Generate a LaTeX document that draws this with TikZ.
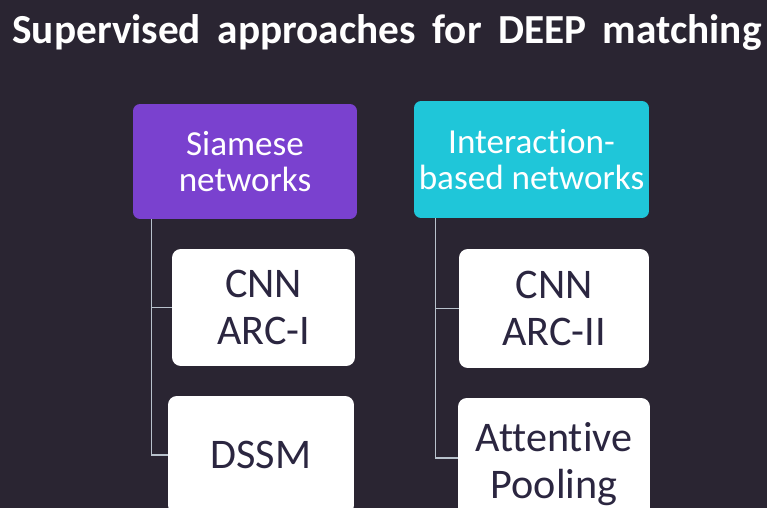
\documentclass[tikz,border=0pt]{standalone}
\usepackage{fontspec}
\setmainfont[Ligatures=NoCommon]{Carlito}
\usepackage{tikz}
\usetikzlibrary{positioning, calc}

\definecolor{slidebg}{HTML}{2A2532}
\definecolor{siamesepurple}{HTML}{7A41CF}
\definecolor{interactcyan}{HTML}{1FC6D9}
\definecolor{boxtext}{HTML}{2B2640}
\definecolor{treeline}{HTML}{B8C2CC}

\tikzset{
    headbox/.style={rounded corners=4pt, align=center, text=white,
        font=\fontsize{20}{21}\selectfont, inner sep=0pt},
    leafbox/.style={rounded corners=5pt, fill=white, align=center, text=boxtext,
        font=\fontsize{24}{27}\selectfont, inner sep=0pt},
    treelink/.style={treeline, line width=0.6pt}
}

\begin{document}
\begin{tikzpicture}[x=0.02cm, y=-0.02cm]

    % ============================================================
    % SLIDE BACKGROUND
    % ============================================================
    \useasboundingbox (0,0) rectangle (767,508);
    \fill[slidebg] (0,0) rectangle (767,508);
    \clip (0,0) rectangle (767,508);

    % ============================================================
    % TITLE
    % ============================================================
    \node[text=white, font=\fontsize{23.5}{25}\bfseries\selectfont] (title)
        at (387,33) {Supervised\hspace{0.4em}approaches\hspace{0.4em}for\hspace{0.4em}DEEP\hspace{0.4em}matching};

    % ============================================================
    % SIAMESE BRANCH
    % ============================================================
    \node[headbox, fill=siamesepurple, minimum width=4.48cm, minimum height=2.3cm]
        (siamese) at (245,161.5) {Siamese\\networks};
    \node[leafbox, minimum width=3.66cm, minimum height=2.34cm]
        (arcone) at (263.5,307.5) {CNN\\ARC-I};
    \node[leafbox, minimum width=3.72cm, minimum height=2.36cm]
        (dssm) at (261,455) {DSSM};

    \coordinate (sroot) at ($(siamese.south west)+(19,0)$);
    \draw[treelink] (sroot) |- (arcone.west);
    \draw[treelink] (sroot) |- (dssm.west);

    % ============================================================
    % INTERACTION-BASED BRANCH
    % ============================================================
    \node[headbox, fill=interactcyan, minimum width=4.7cm, minimum height=2.34cm]
        (interact) at (531.5,159.5) {Interaction-\\based networks};
    \node[leafbox, minimum width=3.8cm, minimum height=2.38cm]
        (arctwo) at (554,308.5) {CNN\\ARC-II};
    \node[leafbox, minimum width=3.84cm, minimum height=2.64cm]
        (attpool) at (554,464) {Attentive\\Pooling};

    \coordinate (iroot) at ($(interact.south west)+(22,0)$);
    \coordinate (attjoin) at ($(attpool.west)+(0,-6)$);
    \draw[treelink] (iroot) |- (arctwo.west);
    \draw[treelink] (iroot) |- (attjoin);

\end{tikzpicture}
\end{document}
